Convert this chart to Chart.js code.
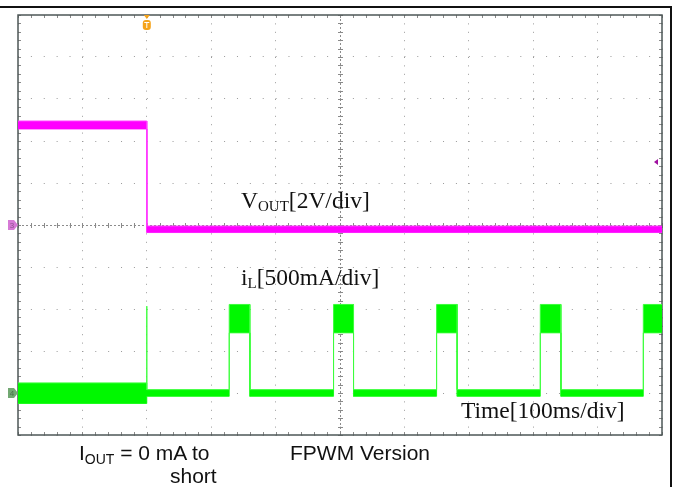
<!DOCTYPE html>
<html>
<head>
<meta charset="utf-8">
<script src="https://cdn.jsdelivr.net/npm/chart.js@4.4.1/dist/chart.umd.min.js"></script>
<style>
  html, body { margin: 0; padding: 0; background: #fff; }
  #wrap { position: relative; width: 673px; height: 487px; overflow: hidden; }
  #frame { position: absolute; left: 0; top: 6px; width: 670px; height: 490px; border-top: 2px solid #111; border-right: 2px solid #111; }
  #scope { position: absolute; left: 0; top: 0; }
  .lbl { position: absolute; white-space: nowrap; color: #111; }
  .serif { font-family: "Liberation Serif", "Times New Roman", serif; font-size: 23.5px; line-height: 23.5px; }
  .sans { font-family: "Liberation Sans", Arial, sans-serif; font-size: 21px; line-height: 21px; }
  .sub { position: relative; font-size: 15px; top: 3px; }
  .sans .sub { font-size: 14px; top: 4px; }
</style>
</head>
<body>
<div id="wrap">
  <div id="frame"></div>
  <canvas id="scope" width="673" height="487"></canvas>
  <div class="lbl serif" style="left:241px;top:189px">V<span class="sub">OUT</span>[2V/div]</div>
  <div class="lbl serif" style="left:241px;top:266px">i<span class="sub">L</span>[500mA/div]</div>
  <div class="lbl serif" style="left:461px;top:399px">Time[100ms/div]</div>
  <div class="lbl sans" style="left:79px;top:442px">I<span class="sub">OUT</span> = 0 mA to</div>
  <div class="lbl sans" style="left:170px;top:465px">short</div>
  <div class="lbl sans" style="left:290px;top:442px">FPWM Version</div>
</div>
<script>
// scope settings
const VOLTS_PER_DIV = 2;
const MA_PER_DIV = 500;
const IL_OFFSET_DIV = -4;   // channel 4 ground position
const TRIG_MS = 200;
const TRIG_LEVEL_V = 3;

// VOUT envelope (V) vs time (ms)
const voutTime  = [0, 200, 200, 1000];
const voutUpper = [4.95, 4.95, -0.05, -0.05];
const voutLower = [4.57, 4.57, -0.36, -0.36];

// inductor current envelope (mA) vs time (ms)
const ilTime  = [0, 200, 200, 200, 328, 328, 360, 360, 490, 490, 521, 521, 650, 650, 682, 682, 811, 811, 843, 843, 971, 971, 1000];
const ilUpper = [120, 120, 1034, 40, 40, 1054, 1054, 40, 40, 1054, 1054, 40, 40, 1054, 1054, 40, 40, 1054, 1054, 40, 40, 1054, 1054];
const ilLower = [-125, -125, -40, -40, -40, 716, 716, -40, -40, 716, 716, -40, -40, 716, 716, -40, -40, 716, 716, -40, -40, 716, 716];

const toDiv = (times, vals, f) => times.map((t, i) => ({ x: t, y: f(vals[i]) }));
const voutDiv = v => v / VOLTS_PER_DIV;
const ilDiv = ma => ma / MA_PER_DIV + IL_OFFSET_DIV;

const scopeDecor = {
  id: 'scopeDecor',
  beforeDatasetsDraw(chart) {
    const { ctx, chartArea: a, scales: { x, y } } = chart;
    const xc = x.getPixelForValue(500);
    const yc = y.getPixelForValue(0);
    ctx.save();
    // center axes
    ctx.strokeStyle = '#8c8c8c';
    ctx.lineWidth = 1;
    ctx.setLineDash([2, 2]);
    ctx.beginPath();
    ctx.moveTo(a.left, Math.round(yc) + 0.5); ctx.lineTo(a.right, Math.round(yc) + 0.5);
    ctx.moveTo(Math.round(xc) + 0.5, a.top); ctx.lineTo(Math.round(xc) + 0.5, a.bottom);
    ctx.stroke();
    ctx.setLineDash([]);
    // minor ticks on center axes and border
    ctx.strokeStyle = '#8a8a8a';
    ctx.beginPath();
    for (let t = 0; t <= 1000; t += 20) {
      const px = Math.round(x.getPixelForValue(t)) + 0.5;
      ctx.moveTo(px, yc - 2); ctx.lineTo(px, yc + 3);
      ctx.moveTo(px, a.top); ctx.lineTo(px, a.top + 3);
      ctx.moveTo(px, a.bottom - 3); ctx.lineTo(px, a.bottom);
    }
    for (let d = -5; d <= 5.001; d += 0.2) {
      const py = Math.round(y.getPixelForValue(d)) + 0.5;
      ctx.moveTo(xc - 2, py); ctx.lineTo(xc + 3, py);
      ctx.moveTo(a.left, py); ctx.lineTo(a.left + 3, py);
      ctx.moveTo(a.right - 3, py); ctx.lineTo(a.right, py);
    }
    ctx.stroke();
    // plot border
    ctx.strokeStyle = '#4d5757';
    ctx.lineWidth = 1.5;
    ctx.strokeRect(a.left, a.top, a.right - a.left, a.bottom - a.top);
    ctx.restore();
  },
  afterDatasetsDraw(chart) {
    const { ctx, chartArea: a, scales: { x, y } } = chart;
    ctx.save();
    // trigger position marker
    const tx = x.getPixelForValue(TRIG_MS);
    ctx.fillStyle = '#f5a31a';
    ctx.beginPath();
    ctx.moveTo(tx - 3, a.top); ctx.lineTo(tx + 3, a.top); ctx.lineTo(tx, a.top + 4);
    ctx.fill();
    ctx.beginPath();
    ctx.roundRect(tx - 4, a.top + 5, 8, 10, 3);
    ctx.fill();
    ctx.strokeStyle = '#fff';
    ctx.lineWidth = 1;
    ctx.beginPath();
    ctx.moveTo(tx - 2.5, a.top + 7.5); ctx.lineTo(tx + 2.5, a.top + 7.5);
    ctx.moveTo(tx, a.top + 7.5); ctx.lineTo(tx, a.top + 13);
    ctx.stroke();
    // channel ground markers
    const chMark = (py, fill, txt) => {
      ctx.fillStyle = fill;
      ctx.beginPath();
      ctx.moveTo(8, py - 5); ctx.lineTo(14, py - 5); ctx.lineTo(18, py);
      ctx.lineTo(14, py + 5); ctx.lineTo(8, py + 5); ctx.closePath();
      ctx.fill();
      ctx.fillStyle = 'rgba(0,0,0,0.35)';
      ctx.font = '8px "Liberation Sans", sans-serif';
      ctx.textAlign = 'center';
      ctx.textBaseline = 'middle';
      ctx.fillText(txt, 12, py + 0.5);
    };
    chMark(y.getPixelForValue(0), '#d67ad6', '3');
    chMark(y.getPixelForValue(IL_OFFSET_DIV), '#72a872', '4');
    // trigger level marker
    const ty = y.getPixelForValue(TRIG_LEVEL_V / VOLTS_PER_DIV);
    ctx.fillStyle = '#a010a0';
    ctx.beginPath();
    ctx.moveTo(a.right - 8, ty); ctx.lineTo(a.right - 4, ty - 3); ctx.lineTo(a.right - 4, ty + 3);
    ctx.closePath();
    ctx.fill();
    ctx.restore();
  }
};

const line = (label, data, color, fill, fillColor) => ({
  label, data,
  borderColor: color,
  backgroundColor: fillColor || color,
  fill,
  borderWidth: 1,
  pointRadius: 0,
  tension: 0
});

new Chart(document.getElementById('scope'), {
  type: 'line',
  data: {
    datasets: [
      line('VOUT max', toDiv(voutTime, voutUpper, voutDiv), '#ff3cff', '+1', '#ff00ff'),
      line('VOUT min', toDiv(voutTime, voutLower, voutDiv), '#ff3cff', false),
      line('iL max', toDiv(ilTime, ilUpper, ilDiv), '#3cff3c', '+1', '#00f800'),
      line('iL min', toDiv(ilTime, ilLower, ilDiv), '#3cff3c', false)
    ]
  },
  options: {
    responsive: false,
    animation: false,
    devicePixelRatio: 1,
    layout: { padding: { left: 18, right: 11, top: 15, bottom: 52 } },
    plugins: { legend: { display: false }, tooltip: { enabled: false } },
    scales: {
      x: {
        type: 'linear', min: 0, max: 1000,
        ticks: { display: false, stepSize: 100 },
        grid: { color: '#9a9a9a', lineWidth: 1, drawTicks: false },
        border: { display: false, dash: [1, 7.4] }
      },
      y: {
        type: 'linear', min: -5, max: 5,
        ticks: { display: false, stepSize: 1 },
        grid: { color: '#9a9a9a', lineWidth: 1, drawTicks: false },
        border: { display: false, dash: [1, 11.88] }
      }
    }
  },
  plugins: [scopeDecor]
});
</script>
</body>
</html>
